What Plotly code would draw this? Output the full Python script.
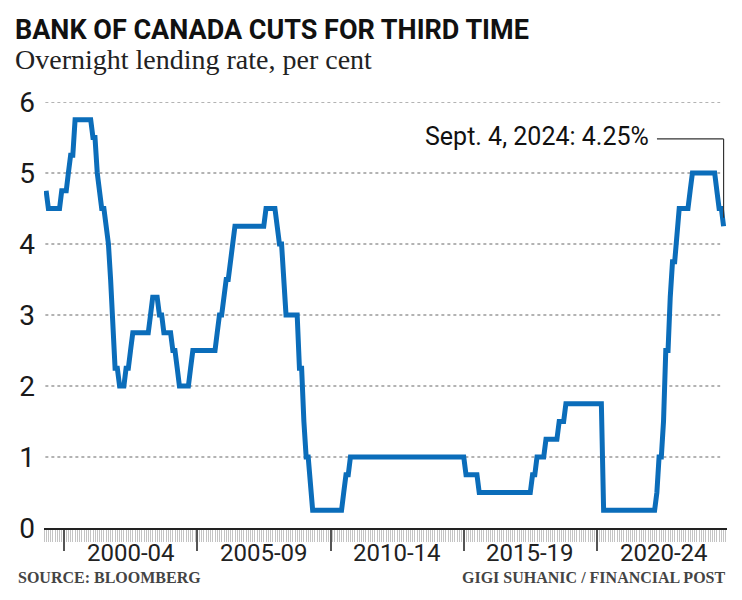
import pandas as pd
import plotly.graph_objects as go

# Bank of Canada overnight target rate, month-end values (per cent)
r1999 = [4.75, 4.5, 4.5, 4.5, 4.5, 4.5, 4.5, 4.75, 4.75]  # Apr-Dec
r2000 = [4.75, 5.0, 5.25, 5.25, 5.75, 5.75, 5.75, 5.75, 5.75, 5.75, 5.75, 5.75]
r2001 = [5.5, 5.5, 5.0, 4.75, 4.5, 4.5, 4.25, 4.0, 3.5, 2.75, 2.25, 2.25]
r2002 = [2.0, 2.0, 2.0, 2.25, 2.25, 2.5, 2.75, 2.75, 2.75, 2.75, 2.75, 2.75]
r2003 = [2.75, 2.75, 3.0, 3.25, 3.25, 3.25, 3.0, 3.0, 2.75, 2.75, 2.75, 2.75]
r2004 = [2.5, 2.5, 2.25, 2.0, 2.0, 2.0, 2.0, 2.0, 2.25, 2.5, 2.5, 2.5]
r2005 = [2.5, 2.5, 2.5, 2.5, 2.5, 2.5, 2.5, 2.5, 2.75, 3.0, 3.0, 3.25]
r2006 = [3.5, 3.5, 3.75, 4.0, 4.25, 4.25, 4.25, 4.25, 4.25, 4.25, 4.25, 4.25]
r2007 = [4.25, 4.25, 4.25, 4.25, 4.25, 4.25, 4.5, 4.5, 4.5, 4.5, 4.5, 4.25]
r2008 = [4.0, 4.0, 3.5, 3.0, 3.0, 3.0, 3.0, 3.0, 3.0, 2.25, 2.25, 1.5]
r2009 = [1.0, 1.0, 0.5, 0.25, 0.25, 0.25, 0.25, 0.25, 0.25, 0.25, 0.25, 0.25]
r2010 = [0.25, 0.25, 0.25, 0.25, 0.25, 0.5, 0.75, 0.75, 1.0, 1.0, 1.0, 1.0]
r2011 = [1.0, 1.0, 1.0, 1.0, 1.0, 1.0, 1.0, 1.0, 1.0, 1.0, 1.0, 1.0]
r2012 = [1.0, 1.0, 1.0, 1.0, 1.0, 1.0, 1.0, 1.0, 1.0, 1.0, 1.0, 1.0]
r2013 = [1.0, 1.0, 1.0, 1.0, 1.0, 1.0, 1.0, 1.0, 1.0, 1.0, 1.0, 1.0]
r2014 = [1.0, 1.0, 1.0, 1.0, 1.0, 1.0, 1.0, 1.0, 1.0, 1.0, 1.0, 1.0]
r2015 = [0.75, 0.75, 0.75, 0.75, 0.75, 0.75, 0.5, 0.5, 0.5, 0.5, 0.5, 0.5]
r2016 = [0.5, 0.5, 0.5, 0.5, 0.5, 0.5, 0.5, 0.5, 0.5, 0.5, 0.5, 0.5]
r2017 = [0.5, 0.5, 0.5, 0.5, 0.5, 0.5, 0.75, 0.75, 1.0, 1.0, 1.0, 1.0]
r2018 = [1.25, 1.25, 1.25, 1.25, 1.25, 1.25, 1.5, 1.5, 1.5, 1.75, 1.75, 1.75]
r2019 = [1.75, 1.75, 1.75, 1.75, 1.75, 1.75, 1.75, 1.75, 1.75, 1.75, 1.75, 1.75]
r2020 = [1.75, 1.75, 0.25, 0.25, 0.25, 0.25, 0.25, 0.25, 0.25, 0.25, 0.25, 0.25]
r2021 = [0.25, 0.25, 0.25, 0.25, 0.25, 0.25, 0.25, 0.25, 0.25, 0.25, 0.25, 0.25]
r2022 = [0.25, 0.25, 0.5, 1.0, 1.0, 1.5, 2.5, 2.5, 3.25, 3.75, 3.75, 4.25]
r2023 = [4.5, 4.5, 4.5, 4.5, 4.5, 4.75, 5.0, 5.0, 5.0, 5.0, 5.0, 5.0]
r2024 = [5.0, 5.0, 5.0, 5.0, 5.0, 4.75, 4.5, 4.5, 4.25]  # Jan-Sep

rates = (r1999 + r2000 + r2001 + r2002 + r2003 + r2004 + r2005 + r2006 + r2007
         + r2008 + r2009 + r2010 + r2011 + r2012 + r2013 + r2014 + r2015 + r2016
         + r2017 + r2018 + r2019 + r2020 + r2021 + r2022 + r2023 + r2024)
dates = pd.date_range(start="1999-04-30", end="2024-09-30", freq="ME")

period_starts = ["2000-01-01", "2005-01-01", "2010-01-01", "2015-01-01", "2020-01-01"]
period_labels = ["2000-04", "2005-09", "2010-14", "2015-19", "2020-24"]
y_ticks = [0, 1, 2, 3, 4, 5, 6]
y_labels = ["0", "1", "2", "3", "4", "5", "6"]

title = "BANK OF CANADA CUTS FOR THIRD TIME"
subtitle = "Overnight lending rate, per cent"
callout = "Sept. 4, 2024: 4.25%"
source = "SOURCE: BLOOMBERG"
credit = "GIGI SUHANIC / FINANCIAL POST"

BLUE = "#0b6dba"
SANS = "Roboto, Arial, sans-serif"
SERIF = "Liberation Serif, Times New Roman, serif"

fig = go.Figure()
fig.add_trace(go.Scatter(
    x=dates, y=rates, mode="lines",
    line=dict(color=BLUE, width=5),
    cliponaxis=False, hoverinfo="skip", showlegend=False,
))

shapes = []
for v in y_ticks[1:]:
    shapes.append(dict(type="line", xref="paper", yref="y", x0=0.002, x1=0.99,
                       y0=v, y1=v, layer="below",
                       line=dict(color="#9a9a9a", width=1.5, dash="dot")))

callout_y = 5.48
shapes.append(dict(type="line", xref="x", yref="y", x0="2022-04-01", x1=dates[-1],
                   y0=callout_y, y1=callout_y, line=dict(color="#333", width=1.2)))
shapes.append(dict(type="line", xref="x", yref="y", x0=dates[-1], x1=dates[-1],
                   y0=callout_y, y1=rates[-1] + 0.12, line=dict(color="#333", width=1.2)))

annotations = [
    dict(text=f"<b>{title}</b>", xref="paper", yref="paper", x=-0.045, y=1.168,
         xanchor="left", yanchor="middle", showarrow=False,
         font=dict(family=SANS, size=27, color="#111")),
    dict(text=subtitle, xref="paper", yref="paper", x=-0.045, y=1.099,
         xanchor="left", yanchor="middle", showarrow=False,
         font=dict(family=SERIF, size=28, color="#222")),
    dict(text=callout, xref="paper", yref="paper", x=0.888, y=0.918,
         xanchor="right", yanchor="middle", showarrow=False,
         font=dict(family=SANS, size=25, color="#111")),
    dict(text=f"<b>{source}</b>", xref="paper", yref="paper", x=-0.041, y=-0.117,
         xanchor="left", yanchor="middle", showarrow=False,
         font=dict(family=SERIF, size=16, color="#444")),
    dict(text=f"<b>{credit}</b>", xref="paper", yref="paper", x=1.0, y=-0.117,
         xanchor="right", yanchor="middle", showarrow=False,
         font=dict(family=SERIF, size=16, color="#444")),
]
for start, lab in zip(period_starts, period_labels):
    mid = pd.Timestamp(start) + pd.DateOffset(months=30)
    annotations.append(dict(text=lab, xref="x", yref="paper", x=mid, y=0,
                            yshift=-25, xanchor="center", yanchor="middle",
                            showarrow=False,
                            font=dict(family=SANS, size=24, color="#222")))

# The page body adds an 8px offset; the figure is sized so that it fills the window.
fig.update_layout(
    width=734, height=592,
    margin=dict(l=36, r=15, t=94, b=72),
    plot_bgcolor="white", paper_bgcolor="white",
    shapes=shapes, annotations=annotations,
    xaxis=dict(
        type="date", range=["1999-04-01", "2024-11-16"],
        tickmode="array", tickvals=period_starts, showticklabels=False,
        ticks="outside", ticklen=21, tickwidth=2, tickcolor="#555",
        showline=True, linecolor="#222", linewidth=2,
        showgrid=False, zeroline=False,
        minor=dict(ticks="outside", ticklen=12, tickwidth=1, tickcolor="#c4c4c4",
                   dtick="M1", tick0="1999-01-01", showgrid=False),
    ),
    yaxis=dict(
        range=[0, 6], tickmode="array", tickvals=y_ticks, ticktext=y_labels,
        ticks="", showgrid=False, zeroline=False, showline=False,
        tickfont=dict(family=SANS, size=28, color="#1a1a1a"),
        ticklabelstandoff=8,
    ),
)

fig.write_html("out.html")
